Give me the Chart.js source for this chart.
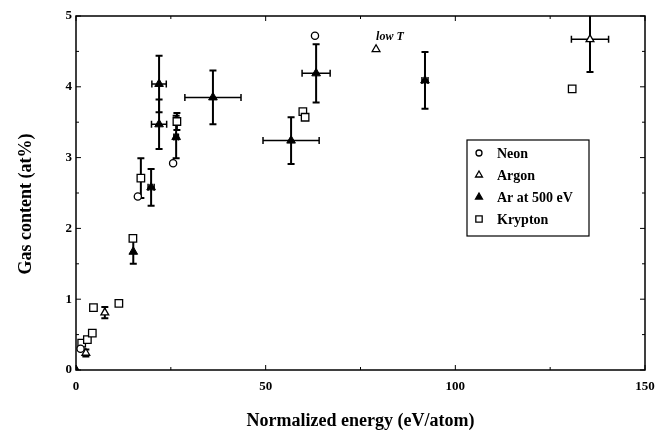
<!DOCTYPE html>
<html>
<head>
<meta charset="utf-8">
<script src="https://cdn.jsdelivr.net/npm/chart.js@4"></script>
<style>
  html, body { margin: 0; padding: 0; background: #fff; }
  #wrap { width: 655px; height: 432px; }
</style>
</head>
<body>
<div id="wrap"><canvas id="gasChart" width="655" height="432"></canvas></div>
<script>
// values
const neonX = [1.2, 16.3, 25.6, 63.0];
const neonY = [0.30, 2.45, 2.92, 4.72];

const argonX = [2.6, 7.6, 79.1, 135.5];
const argonY = [0.24, 0.81, 4.53, 4.67];
const argonXErr = [0, 0, 0, 4.9];
const argonYErr = [0.05, 0.08, 0, 0.46];

const ar500X = [0, 15.1, 19.8, 21.9, 21.9, 26.4, 36.1, 56.7, 63.3, 92.0];
const ar500Y = [0, 1.67, 2.58, 4.04, 3.47, 3.29, 3.85, 3.24, 4.19, 4.09];
const ar500XErr = [0, 0, 0.8, 1.9, 2.0, 0.6, 7.4, 7.4, 3.7, 0.8];
const ar500YErr = [0, 0.17, 0.26, 0.40, 0.35, 0.30, 0.38, 0.33, 0.41, 0.40];

const kryptonX = [1.5, 3.0, 4.3, 4.6, 11.3, 15.0, 17.1, 26.6, 59.8, 60.4, 130.8];
const kryptonY = [0.38, 0.43, 0.52, 0.88, 0.94, 1.86, 2.71, 3.51, 3.65, 3.57, 3.97];
const kryptonYErr = [0, 0, 0, 0, 0, 0, 0.28, 0.12, 0, 0, 0];

const xTickLabels = [0, 50, 100, 150];
const yTickLabels = [0, 1, 2, 3, 4, 5];

const serif = "'Liberation Serif', 'DejaVu Serif', serif";

function toPoints(xs, ys, xe, ye) {
  return xs.map((x, i) => ({
    x: x,
    y: ys[i],
    xErr: xe ? xe[i] : 0,
    yErr: ye ? ye[i] : 0,
  }));
}

// error bars, drawn under the markers
const errorBars = {
  id: "errorBars",
  beforeDatasetsDraw(chart) {
    const { ctx, chartArea, scales } = chart;
    ctx.save();
    ctx.beginPath();
    ctx.rect(chartArea.left, chartArea.top, chartArea.right - chartArea.left, chartArea.bottom - chartArea.top);
    ctx.clip();
    ctx.strokeStyle = "#000";
    chart.data.datasets.forEach((ds) => {
      ds.data.forEach((p) => {
        const px = scales.x.getPixelForValue(p.x);
        const py = scales.y.getPixelForValue(p.y);
        if (p.yErr) {
          const y1 = scales.y.getPixelForValue(p.y + p.yErr);
          const y2 = scales.y.getPixelForValue(p.y - p.yErr);
          ctx.lineWidth = 2;
          ctx.beginPath();
          ctx.moveTo(px, y1);
          ctx.lineTo(px, y2);
          ctx.moveTo(px - 3.5, y1);
          ctx.lineTo(px + 3.5, y1);
          ctx.moveTo(px - 3.5, y2);
          ctx.lineTo(px + 3.5, y2);
          ctx.stroke();
        }
        if (p.xErr) {
          const x1 = scales.x.getPixelForValue(p.x - p.xErr);
          const x2 = scales.x.getPixelForValue(p.x + p.xErr);
          ctx.lineWidth = 1.5;
          ctx.beginPath();
          ctx.moveTo(x1, py);
          ctx.lineTo(x2, py);
          ctx.moveTo(x1, py - 3.5);
          ctx.lineTo(x1, py + 3.5);
          ctx.moveTo(x2, py - 3.5);
          ctx.lineTo(x2, py + 3.5);
          ctx.stroke();
        }
      });
    });
    ctx.restore();
  },
};

// box frame with inward ticks on all four sides, y title, legend and the "low T" note
const frame = {
  id: "frame",
  afterDraw(chart) {
    const { ctx, chartArea, scales } = chart;
    const { left, right, top, bottom } = chartArea;
    ctx.save();
    ctx.strokeStyle = "#000";
    ctx.lineWidth = 1.5;
    ctx.strokeRect(left, top, right - left, bottom - top);

    ctx.lineWidth = 1;
    ctx.beginPath();
    scales.x.ticks.forEach((t) => {
      const px = scales.x.getPixelForValue(t.value);
      const len = xTickLabels.includes(t.value) ? 5 : 3;
      ctx.moveTo(px, bottom);
      ctx.lineTo(px, bottom - len);
      ctx.moveTo(px, top);
      ctx.lineTo(px, top + len);
    });
    scales.y.ticks.forEach((t) => {
      const py = scales.y.getPixelForValue(t.value);
      const len = yTickLabels.includes(t.value) ? 5 : 3;
      ctx.moveTo(left, py);
      ctx.lineTo(left + len, py);
      ctx.moveTo(right, py);
      ctx.lineTo(right - len, py);
    });
    ctx.stroke();

    // y axis title, sits a little below the middle of the axis
    ctx.fillStyle = "#000";
    ctx.save();
    ctx.translate(26, (top + bottom) / 2 + 11);
    ctx.rotate(-Math.PI / 2);
    ctx.font = "bold 18px " + serif;
    ctx.textAlign = "center";
    ctx.textBaseline = "middle";
    ctx.fillText("Gas content (at%)", 0, 0);
    ctx.restore();

    // note next to the low temperature argon point
    const nx = scales.x.getPixelForValue(argonX[2]);
    const ny = scales.y.getPixelForValue(argonY[2]);
    ctx.font = "italic bold 12px " + serif;
    ctx.textAlign = "left";
    ctx.textBaseline = "alphabetic";
    ctx.fillText("low T", nx, ny - 9);

    // legend box
    const bx = 467, by = 140, bw = 122, bh = 96;
    ctx.lineWidth = 1.2;
    ctx.strokeRect(bx, by, bw, bh);
    ctx.font = "bold 14px " + serif;
    ctx.textBaseline = "middle";
    chart.data.datasets.forEach((ds, i) => {
      const ly = by + 13 + i * 22;
      ctx.strokeStyle = "#000";
      ctx.fillStyle = ds.backgroundColor;
      ctx.lineWidth = 1.3;
      Chart.helpers.drawPoint(ctx, {
        pointStyle: ds.pointStyle,
        radius: ds.legendRadius,
        rotation: 0,
        borderWidth: 1.3,
      }, bx + 12, ly);
      ctx.fillStyle = "#000";
      ctx.fillText(ds.label, bx + 30, ly + 1);
    });
    ctx.restore();
  },
};

try {
  const ctx = document.getElementById("gasChart").getContext("2d");
  new Chart(ctx, {
    type: "scatter",
    data: {
      datasets: [
        {
          label: "Neon",
          data: toPoints(neonX, neonY),
          pointStyle: "circle",
          pointRadius: 3.6,
          legendRadius: 3,
          backgroundColor: "#fff",
          borderColor: "#000",
          borderWidth: 1.3,
        },
        {
          label: "Argon",
          data: toPoints(argonX, argonY, argonXErr, argonYErr),
          pointStyle: "triangle",
          pointRadius: 4.5,
          legendRadius: 4,
          backgroundColor: "#fff",
          borderColor: "#000",
          borderWidth: 1.3,
        },
        {
          label: "Ar at 500 eV",
          data: toPoints(ar500X, ar500Y, ar500XErr, ar500YErr),
          pointStyle: "triangle",
          pointRadius: 5,
          legendRadius: 4,
          backgroundColor: "#000",
          borderColor: "#000",
          borderWidth: 1,
        },
        {
          label: "Krypton",
          data: toPoints(kryptonX, kryptonY, null, kryptonYErr),
          pointStyle: "rect",
          pointRadius: 5.3,
          legendRadius: 4.5,
          backgroundColor: "#fff",
          borderColor: "#000",
          borderWidth: 1.3,
        },
      ],
    },
    options: {
      responsive: false,
      animation: false,
      layout: { padding: { top: 16, right: 0, left: 0, bottom: 0 } },
      plugins: {
        legend: { display: false },
        tooltip: { enabled: false },
      },
      scales: {
        x: {
          type: "linear",
          min: 0,
          max: 150,
          afterFit: (s) => { s.height = 62; s.paddingRight = 10; s.paddingLeft = 0; },
          grid: { display: false, drawTicks: false },
          border: { display: false },
          ticks: {
            stepSize: 25,
            padding: 9,
            color: "#000",
            font: { family: serif, size: 13, weight: "bold" },
            callback: (v) => (xTickLabels.includes(v) ? v : ""),
          },
          title: {
            display: true,
            text: "Normalized energy (eV/atom)",
            color: "#000",
            font: { family: serif, size: 18, weight: "bold" },
            padding: { top: 0, bottom: 0 },
          },
        },
        y: {
          type: "linear",
          min: 0,
          max: 5,
          afterFit: (s) => { s.width = 76; },
          grid: { display: false, drawTicks: false },
          border: { display: false },
          ticks: {
            stepSize: 0.5,
            padding: 4,
            color: "#000",
            font: { family: serif, size: 13, weight: "bold" },
            callback: (v) => (yTickLabels.includes(v) ? v : ""),
          },
        },
      },
    },
    plugins: [errorBars, frame],
  });
} catch (e) {
  console.error("chart error:", e);
}
</script>
</body>
</html>
